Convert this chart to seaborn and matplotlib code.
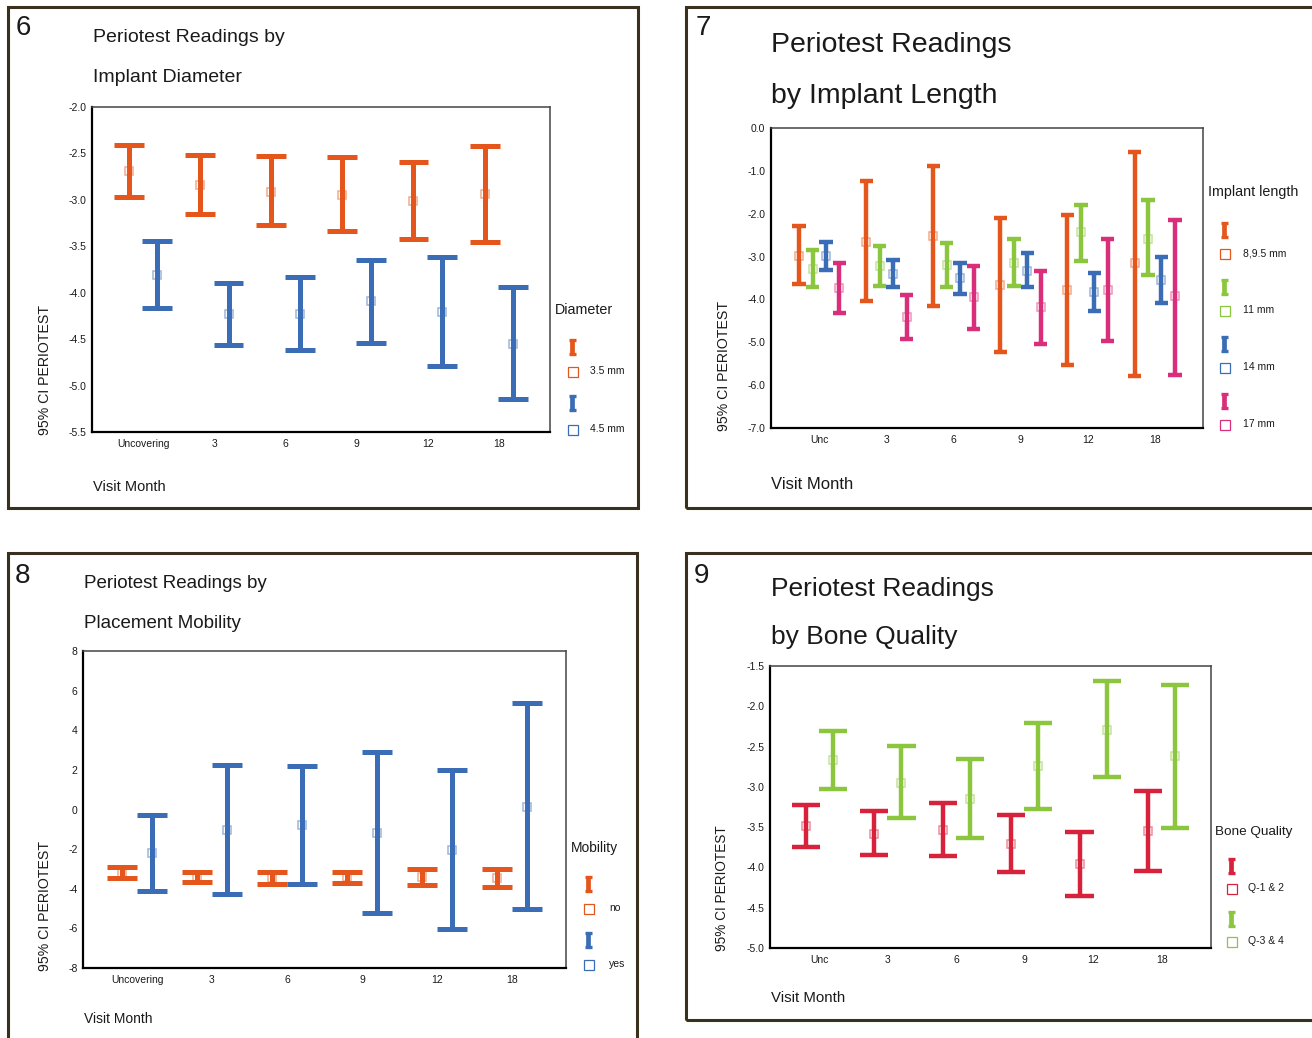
import numpy as np
import pandas as pd
import matplotlib
matplotlib.use("Agg")
import matplotlib.pyplot as plt
import seaborn as sns
from matplotlib.lines import Line2D
from matplotlib.patches import Rectangle

# ---------------- data ----------------
months_long = ["Uncovering", "3", "6", "9", "12", "18"]
months_short = ["Unc", "3", "6", "9", "12", "18"]

# Fig 6 - implant diameter
diam_groups = ["3.5 mm", "4.5 mm"]
d35_lo = [-2.97, -3.15, -3.27, -3.33, -3.42, -3.45]
d35_mean = [-2.69, -2.84, -2.91, -2.95, -3.01, -2.94]
d35_hi = [-2.41, -2.52, -2.53, -2.54, -2.59, -2.42]
d45_lo = [-4.16, -4.56, -4.62, -4.54, -4.79, -5.14]
d45_mean = [-3.81, -4.23, -4.23, -4.09, -4.21, -4.55]
d45_hi = [-3.44, -3.90, -3.83, -3.65, -3.62, -3.94]
p6_yticks = [-5.5, -5.0, -4.5, -4.0, -3.5, -3.0, -2.5, -2.0]
p6_yticklabels = ["-5.5", "-5.0", "-4.5", "-4.0", "-3.5", "-3.0", "-2.5", "-2.0"]

# Fig 7 - implant length
len_groups = ["8,9.5 mm", "11 mm", "14 mm", "17 mm"]
l8_lo = [-3.65, -4.04, -4.15, -5.22, -5.54, -5.79]
l8_mean = [-2.98, -2.65, -2.51, -3.66, -3.78, -3.16]
l8_hi = [-2.28, -1.24, -0.88, -2.09, -2.04, -0.56]
l11_lo = [-3.71, -3.69, -3.72, -3.69, -3.11, -3.43]
l11_mean = [-3.28, -3.22, -3.19, -3.15, -2.42, -2.58]
l11_hi = [-2.85, -2.75, -2.68, -2.58, -1.79, -1.68]
l14_lo = [-3.32, -3.72, -3.88, -3.72, -4.27, -4.08]
l14_mean = [-2.98, -3.41, -3.51, -3.33, -3.83, -3.55]
l14_hi = [-2.65, -3.09, -3.14, -2.91, -3.39, -3.00]
l17_lo = [-4.32, -4.93, -4.68, -5.03, -4.96, -5.76]
l17_mean = [-3.74, -4.42, -3.95, -4.18, -3.77, -3.93]
l17_hi = [-3.14, -3.89, -3.22, -3.33, -2.58, -2.14]
p7_yticks = [-7, -6, -5, -4, -3, -2, -1, 0]
p7_yticklabels = ["-7.0", "-6.0", "-5.0", "-4.0", "-3.0", "-2.0", "-1.0", "0.0"]

# Fig 8 - placement mobility
mob_groups = ["no", "yes"]
no_lo = [-3.47, -3.67, -3.76, -3.71, -3.81, -3.91]
no_mean = [-3.19, -3.42, -3.47, -3.42, -3.41, -3.46]
no_hi = [-2.90, -3.15, -3.17, -3.14, -3.00, -3.00]
yes_lo = [-4.11, -4.28, -3.74, -5.23, -6.04, -5.03]
yes_mean = [-2.18, -1.01, -0.77, -1.17, -2.03, 0.15]
yes_hi = [-0.29, 2.27, 2.21, 2.89, 2.01, 5.37]
p8_yticks = [-8, -6, -4, -2, 0, 2, 4, 6, 8]
p8_yticklabels = ["-8", "-6", "-4", "-2", "0", "2", "4", "6", "8"]

# Fig 9 - bone quality
bone_groups = ["Q-1 & 2", "Q-3 & 4"]
q12_lo = [-3.75, -3.84, -3.86, -4.06, -4.35, -4.04]
q12_mean = [-3.49, -3.58, -3.53, -3.71, -3.96, -3.55]
q12_hi = [-3.22, -3.30, -3.20, -3.35, -3.56, -3.05]
q34_lo = [-3.03, -3.39, -3.64, -3.27, -2.88, -3.51]
q34_mean = [-2.67, -2.95, -3.15, -2.74, -2.29, -2.62]
q34_hi = [-2.31, -2.49, -2.66, -2.21, -1.69, -1.73]
p9_yticks = [-5.0, -4.5, -4.0, -3.5, -3.0, -2.5, -2.0, -1.5]
p9_yticklabels = ["-5.0", "-4.5", "-4.0", "-3.5", "-3.0", "-2.5", "-2.0", "-1.5"]

ORANGE = "#E4561B"
BLUE = "#3A6DB5"
GREEN = "#8CC63F"
PINK = "#D92E7A"
RED = "#D8213B"
FRAME = "#3a3020"

# ---------------- style ----------------
sns.set_style("white")
plt.rcParams["font.family"] = ["Liberation Sans", "DejaVu Sans"]
plt.rcParams["axes.unicode_minus"] = False

W, H = 1312, 1038
fig = plt.figure(figsize=(W / 100, H / 100), dpi=100)
fig.patch.set_facecolor("white")


def fx(x):
    return x / W


def fy(y):
    return 1 - y / H


def make_long(order, groups, lows, means, highs):
    rows = []
    for g, lo, mu, hi in zip(groups, lows, means, highs):
        for m, a, b, c in zip(order, lo, mu, hi):
            for v in (a, b, c):
                rows.append({"month": m, "group": g, "value": v})
    return pd.DataFrame(rows)


def panel(rect, order, groups, lows, means, highs, colors, dodge, capsize, lw,
          ylim, yticks, yticklabels, tick_fs=7.5, msize=6):
    l, t, r, b = rect
    ax = fig.add_axes([fx(l), fy(b), (r - l) / W, (b - t) / H])
    df = make_long(order, groups, lows, means, highs)
    pal = dict(zip(groups, colors))
    sns.pointplot(data=df, x="month", y="value", hue="group", order=order,
                  hue_order=groups, palette=pal, estimator="median",
                  errorbar=lambda v: (v.min(), v.max()), dodge=dodge,
                  capsize=capsize,
                  err_kws={"linewidth": lw, "solid_capstyle": "butt"},
                  linestyle="none", marker="s", markersize=msize,
                  markeredgewidth=1.1, markerfacecolor=(1, 1, 1, 0.5),
                  zorder=4, legend=False, ax=ax)
    ax.set_xlim(-0.72, 5.72)
    ax.set_ylim(*ylim)
    ax.set_yticks(yticks)
    ax.set_yticklabels(yticklabels)
    ax.set_xticks(range(len(order)))
    ax.set_xticklabels(order)
    ax.set_xlabel("")
    ax.set_ylabel("")
    ax.tick_params(axis="both", which="major", direction="out", length=3,
                   width=1.8, color="black", labelsize=tick_fs, pad=2,
                   labelcolor="#1a1a1a")
    ax.tick_params(axis="y", pad=1)
    for s in ("left", "bottom"):
        ax.spines[s].set_color("black")
        ax.spines[s].set_linewidth(1.6)
    for s in ("top", "right"):
        ax.spines[s].set_color("#444444")
        ax.spines[s].set_linewidth(1.1)
    ax.set_facecolor("white")
    return ax


def frame(l, t, r, b):
    fig.add_artist(Rectangle((fx(l), fy(b)), (r - l) / W, (b - t) / H,
                             transform=fig.transFigure, fill=False,
                             ec=FRAME, lw=2.2, zorder=10))


def text(x, y, s, size, **kw):
    kw.setdefault("ha", "left")
    kw.setdefault("va", "center")
    fig.text(fx(x), fy(y), s, fontsize=size, color="#1a1a1a", **kw)


def legend_item(x, y_icon, y_sq, label, color, lab_x, fs=7.5):
    # I-beam icon
    h, cw = 8, 3.5
    fig.add_artist(Line2D([fx(x), fx(x)], [fy(y_icon - h), fy(y_icon + h)],
                          transform=fig.transFigure, color=color, lw=3.4,
                          solid_capstyle="butt"))
    for yy in (y_icon - h + 1, y_icon + h - 1):
        fig.add_artist(Line2D([fx(x - cw), fx(x + cw)], [fy(yy), fy(yy)],
                              transform=fig.transFigure, color=color, lw=2.4,
                              solid_capstyle="butt"))
    fig.add_artist(Line2D([fx(x + 1)], [fy(y_sq)], transform=fig.transFigure,
                          marker="s", markersize=6.5, markerfacecolor="white",
                          markeredgecolor=color, markeredgewidth=0.9,
                          linestyle="none"))
    text(lab_x, y_sq - 1, label, fs)


# ---------------- panel 6 ----------------
frame(8, 7, 638, 508)
panel((92, 107, 550, 432), months_long, diam_groups,
      [d35_lo, d45_lo], [d35_mean, d45_mean], [d35_hi, d45_hi],
      [ORANGE, BLUE], 0.4, 0.42, 3.6, (-5.5, -2.0), p6_yticks, p6_yticklabels)
text(16, 28, "6", 20)
text(93, 37, "Periotest Readings by", 14)
text(93, 78, "Implant Diameter", 14)
text(45, 435, "95% CI PERIOTEST", 10.2, rotation=90, ha="center", va="bottom")
text(93, 487, "Visit Month", 10.5)
text(555, 310, "Diameter", 10.3)
legend_item(572, 347, 372, diam_groups[0], ORANGE, 590)
legend_item(572, 403, 430, diam_groups[1], BLUE, 590)

# ---------------- panel 7 ----------------
frame(686, 7, 1322, 508)
panel((771, 128, 1203, 428), months_short, len_groups,
      [l8_lo, l11_lo, l14_lo, l17_lo], [l8_mean, l11_mean, l14_mean, l17_mean],
      [l8_hi, l11_hi, l14_hi, l17_hi],
      [ORANGE, GREEN, BLUE, PINK], 0.6, 0.2, 3.2, (-7.0, 0.0),
      p7_yticks, p7_yticklabels, msize=5.5)
text(696, 28, "7", 20)
text(771, 45, "Periotest Readings", 20.5)
text(771, 96, "by Implant Length", 20.5)
text(724, 431, "95% CI PERIOTEST", 10.2, rotation=90, ha="center", va="bottom")
text(771, 485, "Visit Month", 12)
text(1208, 192, "Implant length", 10.3)
for i, (g, c) in enumerate(zip(len_groups, [ORANGE, GREEN, BLUE, PINK])):
    legend_item(1224, 230 + i * 57, 254 + i * 57, g, c, 1243)

# ---------------- panel 8 ----------------
frame(8, 553, 637, 1048)
panel((83, 651, 566, 968), months_long, mob_groups,
      [no_lo, yes_lo], [no_mean, yes_mean], [no_hi, yes_hi],
      [ORANGE, BLUE], 0.4, 0.4, 3.6, (-8, 8), p8_yticks, p8_yticklabels)
text(15, 576, "8", 20)
text(84, 584, "Periotest Readings by", 13.5)
text(84, 624, "Placement Mobility", 13.5)
text(45, 971, "95% CI PERIOTEST", 10.2, rotation=90, ha="center", va="bottom")
text(84, 1019, "Visit Month", 10)
text(571, 848, "Mobility", 10)
legend_item(588, 884, 909, mob_groups[0], ORANGE, 609)
legend_item(588, 940, 965, mob_groups[1], BLUE, 609)

# ---------------- panel 9 ----------------
frame(686, 553, 1322, 1020)
panel((770, 666, 1211, 948), months_short, bone_groups,
      [q12_lo, q34_lo], [q12_mean, q34_mean], [q12_hi, q34_hi],
      [RED, GREEN], 0.4, 0.41, 3.2, (-5.0, -1.5), p9_yticks, p9_yticklabels)
text(694, 576, "9", 20)
text(771, 589, "Periotest Readings", 19)
text(771, 637, "by Bone Quality", 19)
text(722, 951, "95% CI PERIOTEST", 9.8, rotation=90, ha="center", va="bottom")
text(771, 998, "Visit Month", 10.8)
text(1215, 832, "Bone Quality", 9.7)
legend_item(1231, 866, 889, bone_groups[0], RED, 1248)
legend_item(1231, 919, 942, bone_groups[1], GREEN, 1248)

fig.savefig("out.png", dpi=100, facecolor="white")
